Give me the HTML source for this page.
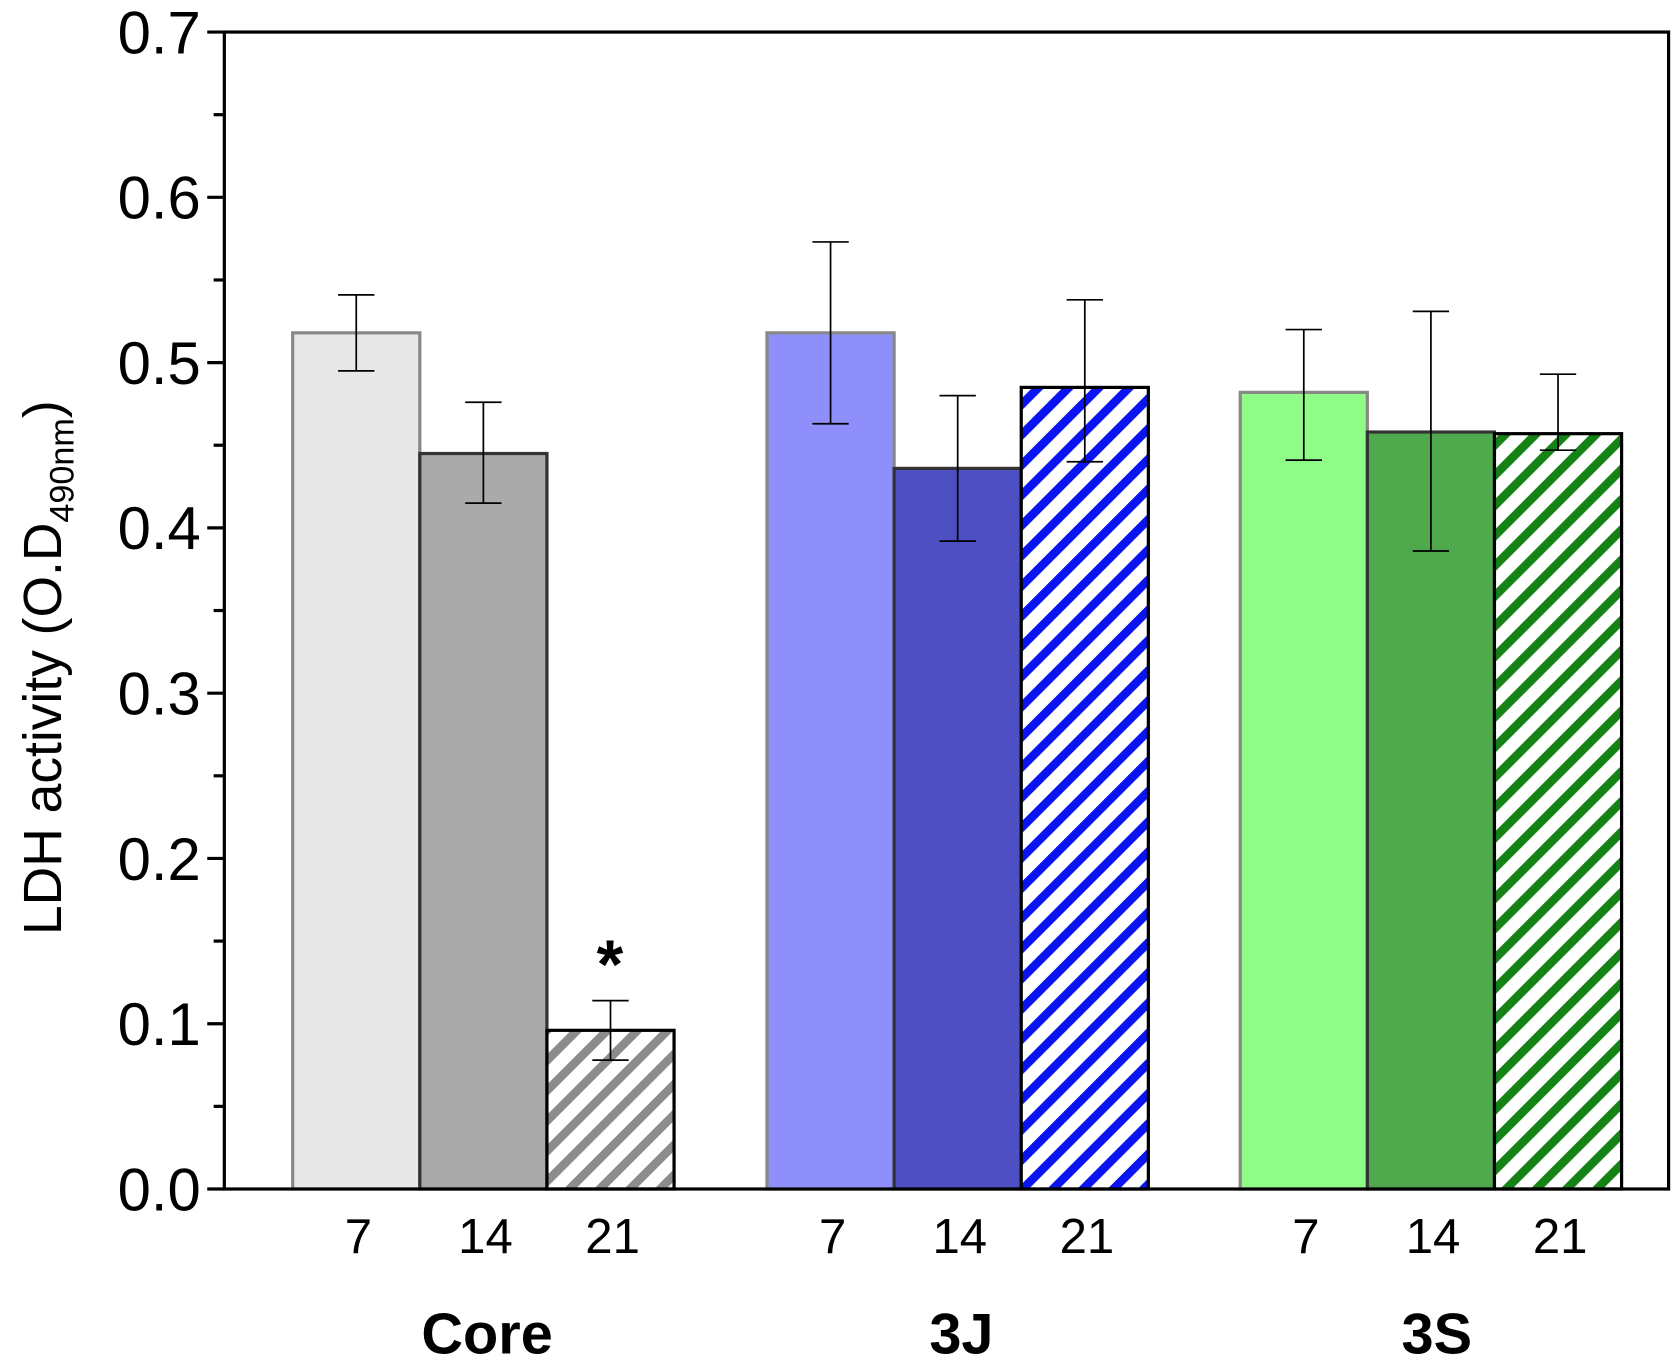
<!DOCTYPE html>
<html><head><meta charset="utf-8"><style>html,body{margin:0;padding:0;background:#fff}svg{display:block}</style></head>
<body>
<svg id="chart" width="1675" height="1361" viewBox="0 0 1568 1274" preserveAspectRatio="none" xmlns="http://www.w3.org/2000/svg" font-family="'Liberation Sans', sans-serif">
<defs>
<pattern id="hg" patternUnits="userSpaceOnUse" width="20" height="20" patternTransform="rotate(45)"><rect width="20" height="20" fill="#fff"/><rect x="0" y="0" width="8" height="20" fill="#8c8c8c"/></pattern>
<pattern id="hb" patternUnits="userSpaceOnUse" width="20" height="20" patternTransform="rotate(45)"><rect width="20" height="20" fill="#fff"/><rect x="0" y="0" width="8" height="20" fill="#0a14f0"/></pattern>
<pattern id="hgr" patternUnits="userSpaceOnUse" width="20" height="20" patternTransform="rotate(45)"><rect width="20" height="20" fill="#fff"/><rect x="0" y="0" width="8" height="20" fill="#148214"/></pattern>
</defs>
<g id="plot"></g>
</svg>
<script>
const groups = ["Core", "3J", "3S"];
const days = ["7", "14", "21"];
const values = [0.518, 0.445, 0.096, 0.518, 0.436, 0.485, 0.482, 0.458, 0.457];
const errHi = [0.541, 0.476, 0.114, 0.573, 0.480, 0.538, 0.520, 0.531, 0.493];
const errLo = [0.495, 0.415, 0.078, 0.463, 0.392, 0.440, 0.441, 0.386, 0.447];
const yTicks = ["0.0", "0.1", "0.2", "0.3", "0.4", "0.5", "0.6", "0.7"];
const fills = ["#e8e8e8","#aaaaaa","url(#hg)","#8f8ffc","#4f4fc4","url(#hb)","#90fc88","#4fa84c","url(#hgr)"];
const strokes = ["#888","#333","#000","#888","#333","#000","#888","#333","#000"];

const NS = "http://www.w3.org/2000/svg";
const g = document.getElementById('plot');
const X0 = 210, X1 = 1562, Y0 = 1113, Y1 = 30;
const yScale = v => Y0 - v / 0.7 * (Y0 - Y1);
const groupStart = [274, 718, 1161], barW = 119;
const xBar = i => groupStart[Math.floor(i / 3)] + (i % 3) * barW;
function el(tag, attrs, txt) {
  const e = document.createElementNS(NS, tag);
  for (const k in attrs) e.setAttribute(k, attrs[k]);
  if (txt !== undefined) e.textContent = txt;
  g.appendChild(e); return e;
}
values.forEach((v, i) => {
  const x = xBar(i), y = yScale(v);
  const r = el('rect', {x: x, y: y, width: barW, height: Y0 - y, fill: fills[i], stroke: strokes[i], 'stroke-width': 3});
  
  
});
values.forEach((v, i) => {
  const cx = xBar(i) + barW / 2, yh = yScale(errHi[i]), yl = yScale(errLo[i]);
  const p = el('path', {d: `M${cx},${yh}V${yl}M${cx-17},${yh}H${cx+17}M${cx-17},${yl}H${cx+17}`, stroke: '#000', 'stroke-width': 1.6, fill: 'none'});
  
  
});
const frame = el('rect', {x: X0, y: Y1, width: X1 - X0, height: Y0 - Y1, fill: 'none', stroke: '#000', 'stroke-width': 3});


yTicks.forEach((t, k) => {
  const y = yScale(parseFloat(t));
  const tk = el('line', {x1: X0 - 16, x2: X0, y1: y, y2: y, stroke: '#000', 'stroke-width': 3});
  
  
  const lb = el('text', {x: X0 - 22, y: y + 20, 'text-anchor': 'end', 'font-size': 56}, t);
  
  
  if (k < yTicks.length - 1) {
    const ym = yScale(parseFloat(t) + 0.05);
    const mt = el('line', {x1: X0 - 10, x2: X0, y1: ym, y2: ym, stroke: '#000', 'stroke-width': 3});
    
    
  }
});
values.forEach((v, i) => {
  const lb = el('text', {x: xBar(i) + barW / 2 + 2, y: 1173, 'text-anchor': 'middle', 'font-size': 46}, days[i % 3]);
  
  
});
groups.forEach((gr, j) => {
  const lb = el('text', {x: [456, 900, 1345][j], y: 1267, 'text-anchor': 'middle', 'font-size': 54, 'font-weight': 'bold'}, gr);
  
  
});
const star = el('text', {x: 571, y: 925, 'text-anchor': 'middle', 'font-size': 64, 'font-weight': 'bold'}, '*');


const yt = el('text', {transform: 'translate(57,625) rotate(-90)', 'text-anchor': 'middle', 'font-size': 50});


yt.innerHTML = 'LDH activity (O.D<tspan font-size="32" dy="12">490nm</tspan><tspan dy="-12">)</tspan>';
</script>
</body></html>
